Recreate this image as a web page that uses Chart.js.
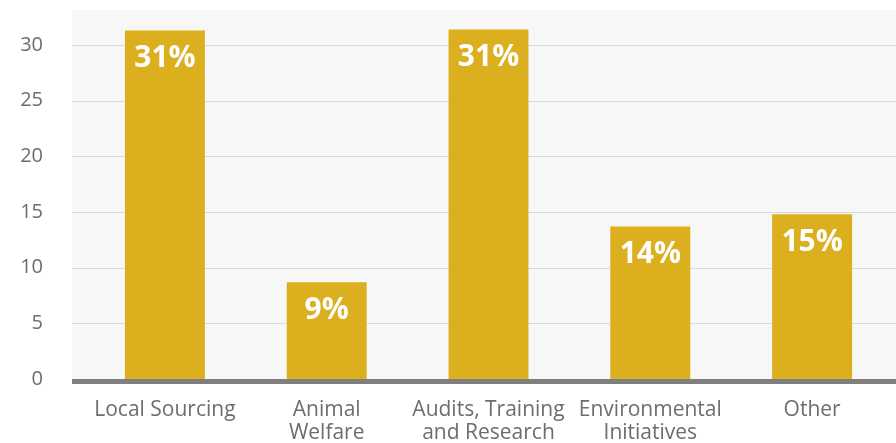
<!DOCTYPE html>
<html>
<head>
<meta charset="utf-8">
<script src="https://cdn.jsdelivr.net/npm/chart.js@4/dist/chart.umd.min.js"></script>
<style>
  html, body { margin: 0; padding: 0; background: #fff; overflow: hidden; }
  #wrap { width: 896px; height: 443px; }
</style>
</head>
<body>
<div id="wrap"><canvas id="chart" width="896" height="443"></canvas></div>
<script>
const categories = [
  'Local Sourcing',
  ['Animal', 'Welfare'],
  ['Audits, Training', 'and Research'],
  ['Environmental', 'Initiatives'],
  'Other'
];
const shares = [31.3, 8.7, 31.4, 13.7, 14.8];
const shareLabels = ['31%', '9%', '31%', '14%', '15%'];

const FONT = "'Open Sans', 'Noto Sans', sans-serif";
const PLOT_LEFT = 72;

// grey plot panel + grid lines, running a bit wider than the bar area
const plotBg = {
  id: 'plotBg',
  beforeDatasetsDraw (chart) {
    const { ctx, chartArea: a, scales } = chart;
    const right = chart.width;
    ctx.save();
    ctx.fillStyle = '#f7f7f7';
    ctx.fillRect(PLOT_LEFT, a.top, right - PLOT_LEFT, a.bottom - a.top);
    ctx.strokeStyle = '#d9d9d9';
    ctx.lineWidth = 1;
    scales.y.ticks.forEach(t => {
      if (t.value === 0) return;
      const y = Math.round(scales.y.getPixelForValue(t.value)) + 0.5;
      ctx.beginPath();
      ctx.moveTo(PLOT_LEFT, y);
      ctx.lineTo(right, y);
      ctx.stroke();
    });
    ctx.restore();
  },
  afterDatasetsDraw (chart) {
    const { ctx, scales } = chart;
    const y0 = scales.y.getPixelForValue(0);
    ctx.save();
    ctx.fillStyle = '#807f80';
    ctx.fillRect(PLOT_LEFT, y0, chart.width - PLOT_LEFT, 5);
    ctx.restore();
  }
};

// white % text inside the top of each bar
const barText = {
  id: 'barText',
  afterDatasetsDraw (chart) {
    const ctx = chart.ctx;
    const meta = chart.getDatasetMeta(0);
    ctx.save();
    ctx.fillStyle = '#ffffff';
    ctx.font = 'bold 30px ' + FONT;
    ctx.textAlign = 'center';
    ctx.textBaseline = 'top';
    meta.data.forEach((bar, i) => {
      ctx.fillText(shareLabels[i], bar.x, bar.y + 13);
    });
    ctx.restore();
  }
};

new Chart(document.getElementById('chart'), {
  type: 'bar',
  data: {
    labels: categories,
    datasets: [{
      data: shares,
      backgroundColor: '#dbaf1d',
      borderWidth: 0,
      categoryPercentage: 1,
      barPercentage: 0.494
    }]
  },
  options: {
    responsive: false,
    animation: false,
    layout: { padding: { top: 10, right: 3, left: 0, bottom: 0 } },
    plugins: { legend: { display: false }, tooltip: { enabled: false } },
    scales: {
      x: {
        grid: { display: false, drawTicks: false },
        border: { display: false },
        ticks: {
          color: '#6d6d6d',
          font: { family: FONT, size: 21, lineHeight: 1.12 },
          padding: 19,
          maxRotation: 0,
          autoSkip: false
        },
        afterFit (scale) { scale.height = 64; }
      },
      y: {
        min: 0,
        max: 33.15,
        grid: { display: false, drawTicks: false },
        border: { display: false },
        ticks: {
          stepSize: 5,
          color: '#6d6d6d',
          font: { family: FONT, size: 20 },
          padding: 41
        },
        afterBuildTicks (scale) {
          scale.ticks = scale.ticks.filter(t => t.value % 5 === 0);
        },
        afterFit (scale) {
          scale.width = 84;
          scale.paddingTop = 0;
          scale.paddingBottom = 0;
        }
      }
    }
  },
  plugins: [plotBg, barText]
});
</script>
</body>
</html>
